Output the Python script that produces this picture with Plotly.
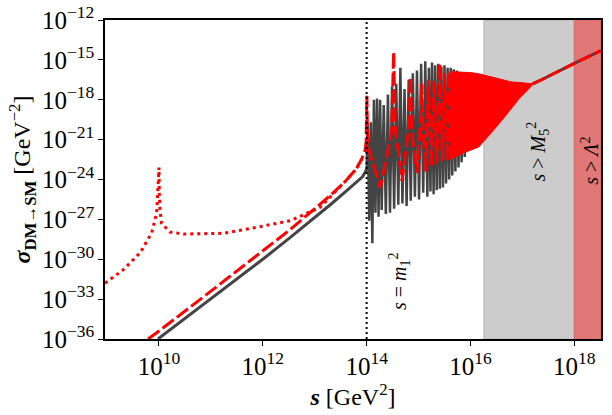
import numpy as np
import plotly.graph_objects as go

# valores (log10 de s y de sigma)
# curva gris (solida) antes de la resonancia
gris_logs = [9.98, 11.0, 12.0, 12.5, 13.0, 13.3, 13.6, 13.8, 13.92, 13.98, 14.0]
gris_logsig = [-36.0, -33.0, -30.0, -28.45, -26.9, -25.9, -24.9, -24.2, -23.8, -23.4, -23.2]

# oscilaciones de la curva gris (picos y valles)
gris_osc_logs = [14.00, 14.02, 14.05, 14.08, 14.11, 14.14, 14.17, 14.20, 14.23, 14.26,
                 14.29, 14.33, 14.37, 14.41, 14.45, 14.49, 14.53, 14.57, 14.61, 14.65,
                 14.69, 14.73, 14.77, 14.81, 14.85, 14.89, 14.93, 14.97, 15.01, 15.05,
                 15.09, 15.13, 15.17, 15.20, 15.23, 15.26, 15.29, 15.32, 15.35, 15.38,
                 15.41, 15.44, 15.47, 15.50, 15.53, 15.56, 15.59, 15.62, 15.65, 15.68,
                 15.71, 15.74, 15.77, 15.80, 15.83, 15.86, 15.89, 15.92, 15.95]
gris_osc_logsig = [-23.2, -19.8, -27.1, -19.7, -28.8, -18.0, -26.5, -17.9, -26.8, -18.0,
                   -26.3, -18.4, -26.6, -17.6, -26.5, -17.0, -26.2, -16.8, -25.9, -15.6,
                   -25.8, -17.2, -26.0, -16.5, -25.6, -16.0, -25.3, -15.8, -25.5, -15.3,
                   -25.0, -15.1, -25.3, -15.6, -24.9, -15.2, -25.1, -15.4, -24.8, -15.3,
                   -24.7, -15.5, -24.6, -15.4, -24.3, -15.6, -24.0, -15.6, -23.7, -15.7,
                   -23.4, -15.8, -23.1, -15.9, -22.7, -16.0, -22.3, -16.0, -21.8]

# curva roja discontinua (con la resonancia en 1e14)
roja_logs = [9.79, 10.0, 11.0, 12.0, 12.5, 13.0, 13.3, 13.6, 13.8, 13.9, 13.97, 13.99,
             14.005, 14.02, 14.26, 14.48, 14.52, 14.55, 14.68, 14.80, 14.84, 14.87,
             14.97, 15.03, 15.06, 15.09, 15.14, 15.19, 15.25, 15.30, 15.35, 15.41,
             15.46, 15.50, 15.55, 15.58, 15.62, 15.65]
roja_logsig = [-36.0, -35.4, -32.4, -29.4, -27.85, -26.2, -25.2, -24.1, -23.2, -22.5, -21.8, -21.2,
               -17.7, -21.5, -24.6, -20.5, -14.4, -20.0, -24.1, -20.5, -16.3, -20.5,
               -23.5, -20.0, -16.8, -20.5, -23.4, -16.5, -23.0, -16.6, -22.8, -15.3,
               -22.6, -16.0, -22.6, -15.9, -22.4, -15.9]

# curva roja punteada
punt_logs = [8.96, 9.31, 9.64, 9.86, 9.955, 9.98, 10.0, 10.005, 10.02, 10.05, 10.21,
             10.47, 11.24, 11.88, 12.53, 13.1, 13.3, 13.6, 13.8, 13.9]
punt_logsig = [-31.8, -30.8, -29.5, -28.0, -26.5, -25.0, -23.1, -25.0, -26.3, -27.3, -27.95,
               -28.1, -28.05, -27.6, -27.1, -26.1, -25.3, -24.1, -23.2, -22.5]

# envolvente de la zona densa de oscilaciones rojas
env_logs = [15.60, 15.80, 16.00, 16.16, 16.55, 16.80, 16.94, 17.12, 17.20, 17.25]
env_sup = [-15.9, -15.9, -15.95, -16.05, -16.45, -16.67, -16.7, -16.75, -16.8, -16.75]
env_inf = [-22.5, -22.1, -21.8, -21.55, -19.8, -18.6, -17.9, -17.2, -16.85, -16.75]

# cola comun despues de la convergencia
cola_logs = [17.2, 17.34, 18.05, 18.515]
cola_logsig = [-16.8, -16.55, -15.17, -14.3]

# regiones sombreadas (log10 s)
m5_log, lam_log = 16.26, 18.0
xmin, xmax = 8.96, 18.515

p = lambda v: np.power(10.0, np.array(v))

fig = go.Figure()

fig.add_trace(go.Scatter(x=p(gris_osc_logs), y=p(gris_osc_logsig), mode='lines',
                         line=dict(color='#444444', width=2.5)))
fig.add_trace(go.Scatter(x=p(gris_logs), y=p(gris_logsig), mode='lines',
                         line=dict(color='#444444', width=3)))
fig.add_trace(go.Scatter(x=p(cola_logs), y=p(cola_logsig), mode='lines',
                         line=dict(color='#444444', width=3)))
fig.add_trace(go.Scatter(x=p(punt_logs), y=p(punt_logsig), mode='lines',
                         line=dict(color='red', width=3, dash='3px,4px')))
fig.add_trace(go.Scatter(x=p(roja_logs), y=p(roja_logsig), mode='lines',
                         line=dict(color='red', width=3, dash='14px,4px')))
fig.add_trace(go.Scatter(x=p(env_logs + env_logs[::-1]), y=p(env_sup + env_inf[::-1]),
                         mode='lines', fill='toself', fillcolor='red',
                         line=dict(color='red', width=1)))
fig.add_trace(go.Scatter(x=p(cola_logs), y=p(cola_logsig), mode='lines',
                         line=dict(color='red', width=3, dash='14px,3px')))
# linea vertical s = m1^2
fig.add_trace(go.Scatter(x=[1e14, 1e14], y=[1e-36, 1e-12], mode='lines',
                         line=dict(color='black', width=2, dash='2px,3px')))

fig.add_shape(type='rect', xref='x', yref='paper', x0=10**m5_log, x1=10**lam_log, y0=0, y1=1,
              fillcolor='#cccccc', line=dict(color='#b0b0b0', width=1), layer='below')
fig.add_shape(type='rect', xref='x', yref='paper', x0=10**lam_log, x1=10**xmax, y0=0, y1=1,
              fillcolor='#e07878', line=dict(color='#e86060', width=1), layer='below')

fuente = dict(family='Liberation Serif', size=20, color='black')
fig.add_annotation(x=14.64, y=-31.65, xref='x', yref='y', text='<i>s</i> = <i>m</i><sub>1</sub><sup>2</sup>',
                   textangle=-90, showarrow=False, font=fuente)
fig.add_annotation(x=17.30, y=-21.9, xref='x', yref='y', text='<i>s</i> > <i>M</i><sub>5</sub><sup>2</sup>',
                   textangle=-90, showarrow=False, font=fuente)
fig.add_annotation(x=18.30, y=-22.6, xref='x', yref='y', text='<i>s</i> > <i>Λ</i><sup>2</sup>',
                   textangle=-90, showarrow=False, font=fuente)

fig.update_layout(
    width=612, height=415, showlegend=False,
    plot_bgcolor='white', paper_bgcolor='white',
    margin=dict(l=105, r=11, t=20, b=76),
    font=fuente,
)
fig.update_xaxes(type='log', range=[xmin, xmax], dtick=2, tick0=0, exponentformat='power',
                 showgrid=False, zeroline=False, showline=True, linecolor='black', linewidth=1.5,
                 mirror=True, ticks='outside', ticklen=5, tickcolor='black', automargin=False,
                 ticklabeloverflow='allow',
                 title=dict(text='<b><i>s</i></b> [GeV<sup>2</sup>]', standoff=0))
fig.update_yaxes(type='log', range=[-36, -12], dtick=3, tick0=0, exponentformat='power',
                 showgrid=False, zeroline=False, showline=True, linecolor='black', linewidth=1.5,
                 mirror=True, ticks='outside', ticklen=5, tickcolor='black', automargin=False,
                 ticklabeloverflow='allow',
                 title=dict(text='<b><i>σ</i><sub>DM→SM</sub></b> [GeV<sup>−2</sup>]', standoff=4))

# sin margen en el body para que la figura empiece en la esquina
fig.write_html("out.html", config={'displayModeBar': False},
               post_script="document.body.style.margin='0px';")
